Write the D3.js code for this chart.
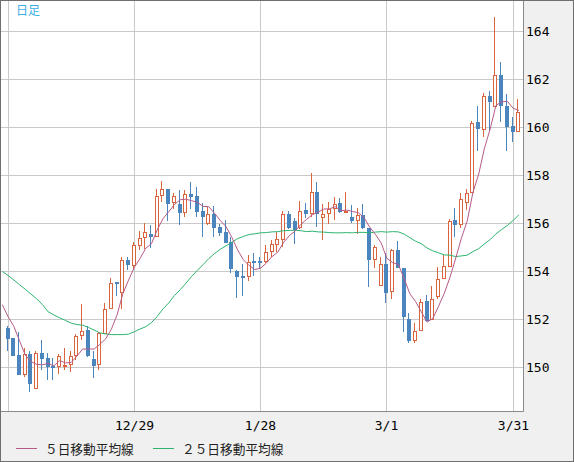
<!DOCTYPE html>
<html>
<head>
<meta charset="utf-8">
<script src="https://cdn.jsdelivr.net/npm/d3@7"></script>
<style>
html, body { margin: 0; padding: 0; background: #fff; }
svg { display: block; }
</style>
</head>
<body>
<div id="root"></div>
<script>
// daily candles, 90 sessions
const opens = [
151.63,151.19,150.49,149.68,150.54,149.07,150.57,150.36,150.06,150.00,
150.00,150.07,150.46,151.28,151.53,150.35,150.07,151.39,152.42,153.53,
153.07,154.44,154.22,155.06,155.36,155.53,155.43,157.11,157.42,156.82,
156.79,156.43,157.21,157.13,156.50,155.94,156.36,155.83,155.62,155.22,
154.01,153.80,153.74,154.42,154.40,154.36,154.78,155.08,155.29,156.36,
156.08,155.78,156.54,156.38,157.28,156.19,156.36,156.57,156.82,156.44,
156.26,156.08,156.33,155.80,154.47,153.39,154.29,153.11,154.88,154.11,
151.99,151.10,151.51,152.75,151.96,152.93,153.68,154.18,156.13,155.90,
156.85,157.24,160.19,159.88,161.29,160.82,162.15,160.89,160.03,159.78];
const highs = [
151.70,151.20,151.46,150.78,150.67,150.67,151.13,150.57,150.36,150.53,
150.78,150.67,151.36,152.63,151.72,150.67,151.46,152.65,153.72,153.56,
154.60,154.57,155.20,155.67,155.99,155.92,157.40,157.75,157.42,157.26,
157.36,157.37,157.70,157.51,156.82,156.68,156.70,155.94,156.12,155.43,
154.04,154.30,154.67,154.74,154.60,155.08,155.29,155.64,156.50,156.50,
156.19,156.92,156.82,158.08,157.72,156.78,156.89,157.10,157.03,157.28,
156.75,156.64,156.78,155.80,155.08,154.60,154.74,154.90,155.25,154.11,
152.24,151.82,152.82,153.00,153.38,154.18,154.67,156.15,156.61,157.24,
157.40,160.25,160.89,161.43,161.51,164.57,162.71,161.38,160.43,161.15];
const lows = [
150.68,150.45,149.68,149.60,148.97,149.07,149.88,149.46,149.46,149.69,
149.88,149.80,150.29,151.13,150.43,149.53,149.88,151.36,152.40,152.97,
152.40,154.04,154.04,154.88,154.92,154.94,155.43,156.86,156.10,156.60,
155.93,156.26,156.60,156.26,155.43,155.92,155.43,155.47,155.15,153.90,
152.86,152.96,153.60,153.79,154.10,154.32,154.60,154.80,155.01,155.75,
155.14,155.75,156.22,156.26,155.85,155.29,155.94,156.13,156.40,156.40,
156.01,155.53,155.75,153.35,154.14,153.39,152.65,152.82,154.11,151.47,
150.99,150.99,151.51,151.93,151.96,152.82,153.68,154.18,155.43,155.80,
156.54,157.24,159.01,159.57,159.85,160.82,160.22,159.01,159.39,159.78];
const closes = [
151.18,150.47,149.68,150.53,149.31,150.57,150.35,150.01,150.00,150.44,
150.07,150.44,151.28,151.50,150.47,150.06,151.40,152.42,153.50,153.49,
154.44,154.25,155.07,155.36,155.61,155.43,157.11,157.40,156.81,157.12,
156.43,157.20,157.10,156.46,156.26,156.36,155.80,155.60,155.18,154.07,
153.76,153.74,154.39,154.35,154.37,154.78,155.11,155.32,156.36,155.80,
155.71,156.51,156.38,157.28,156.38,156.36,156.58,156.80,156.44,156.50,
156.08,156.33,155.78,154.47,155.00,154.28,153.10,154.88,154.11,152.07,
151.10,151.51,152.72,151.93,152.82,153.65,154.21,156.10,155.90,157.02,
157.24,160.15,159.90,161.28,161.03,162.15,160.89,160.01,159.81,160.61];

// moving averages, first value is the session before the first candle
const ma5 = [152.6,
152.10,151.70,151.10,150.50,150.23,150.11,150.09,150.15,150.05,150.27,
150.17,150.19,150.45,150.75,150.75,150.75,150.94,151.17,151.57,152.17,
153.05,153.62,154.15,154.52,154.95,155.14,155.72,156.18,156.47,156.77,
156.97,156.99,156.93,156.86,156.69,156.68,156.40,156.10,155.84,155.40,
154.88,154.47,154.23,154.06,154.12,154.33,154.60,154.79,155.19,155.47,
155.66,155.94,156.15,156.34,156.45,156.58,156.59,156.68,156.51,156.54,
156.48,156.43,156.23,155.83,155.53,155.17,154.53,154.35,154.27,153.69,
153.05,152.73,152.30,151.87,152.02,152.53,153.07,153.74,154.54,155.38,
156.09,157.28,158.04,159.12,159.92,160.90,161.05,161.07,160.78,160.69];
const ma25 = [153.98,
153.82,153.63,153.43,153.24,153.04,152.84,152.60,152.30,152.17,152.05,
151.94,151.83,151.77,151.74,151.65,151.54,151.42,151.38,151.35,151.35,
151.35,151.37,151.47,151.58,151.68,151.85,152.11,152.42,152.67,152.98,
153.22,153.49,153.78,154.03,154.27,154.52,154.73,154.91,155.05,155.20,
155.35,155.44,155.52,155.55,155.59,155.60,155.63,155.64,155.68,155.69,
155.70,155.68,155.64,155.66,155.63,155.62,155.60,155.59,155.59,155.60,
155.59,155.61,155.61,155.59,155.62,155.64,155.62,155.64,155.63,155.54,
155.39,155.24,155.14,154.96,154.84,154.76,154.67,154.66,154.60,154.63,
154.66,154.81,154.93,155.13,155.31,155.55,155.73,155.90,156.11,156.34];

const yTicks = [150, 152, 154, 156, 158, 160, 162, 164];
const xTickIdx = [0, 22, 44, 66, 88];
const xTickLabels = ["", "12/29", "1/28", "3/1", "3/31"];
const legendNames = ["５日移動平均線", "２５日移動平均線"];

const W = 574, H = 462;
const plot = {left: 1, top: 1, right: 523.5, bottom: 411.5};
const colUp = "#d9653f", colDown = "#4a86bd", col5 = "#b65a86", col25 = "#2eb36e";

const svg = d3.select('#root').append('svg').attr('width', W).attr('height', H);

svg.append('rect').attr('x', 0.5).attr('y', 0.5).attr('width', W - 1).attr('height', H - 1)
  .attr('fill', '#f0f0f0').attr('stroke', '#6f6f6f');
svg.append('rect').attr('x', plot.left).attr('y', plot.top)
  .attr('width', plot.right - plot.left).attr('height', plot.bottom - plot.top)
  .attr('fill', '#fff');
svg.append('path')
  .attr('d', `M${plot.right},${plot.top} V${plot.bottom} H${plot.left}`)
  .attr('fill', 'none').attr('stroke', '#8a8a8a');

const x = d3.scaleLinear().domain([0, 89]).range([8, 518.9]);
const y = d3.scaleLinear().domain([150, 164]).range([367, 31]);

svg.append('defs').append('clipPath').attr('id', 'clip')
  .append('rect').attr('x', plot.left + 0.5).attr('y', plot.top)
  .attr('width', plot.right - plot.left - 1).attr('height', plot.bottom - plot.top - 0.5);

// grid
const grid = svg.append('g').attr('stroke', '#c9c9c9').attr('stroke-width', 1);
grid.selectAll('line.h').data(yTicks).join('line').attr('class', 'h')
  .attr('x1', plot.left).attr('x2', plot.right - 0.5)
  .attr('y1', d => Math.round(y(d)) + 0.5).attr('y2', d => Math.round(y(d)) + 0.5);
grid.selectAll('line.v').data(xTickIdx).join('line').attr('class', 'v')
  .attr('y1', plot.top).attr('y2', plot.bottom - 0.5)
  .attr('x1', d => Math.floor(x(d)) + 0.5).attr('x2', d => Math.floor(x(d)) + 0.5);

// axes labels
const yAxis = d3.axisRight(y).tickValues(yTicks).tickSize(0).tickPadding(0);
const gy = svg.append('g').attr('transform', 'translate(526,0)').call(yAxis);
gy.select('.domain').remove();
gy.selectAll('text').attr('font-family', '"DejaVu Sans Mono", monospace')
  .attr('font-size', 13).attr('fill', '#000');

svg.append('g').selectAll('text').data(xTickIdx).join('text')
  .attr('x', d => Math.floor(x(d)) + 0.5).attr('y', 430)
  .attr('text-anchor', 'middle')
  .attr('font-family', '"DejaVu Sans Mono", monospace').attr('font-size', 13)
  .attr('fill', '#000')
  .text((d, i) => xTickLabels[i]);

// candles
const days = d3.range(opens.length);
const cg = svg.append('g').attr('clip-path', 'url(#clip)');
const c = cg.selectAll('g').data(days).join('g');
c.append('line')
  .attr('x1', i => Math.floor(x(i)) - 0.5).attr('x2', i => Math.floor(x(i)) - 0.5)
  .attr('y1', i => Math.round(y(highs[i]))).attr('y2', i => Math.round(y(lows[i])))
  .attr('stroke', i => closes[i] >= opens[i] ? colUp : colDown);
c.filter(i => closes[i] < opens[i]).append('rect')
  .attr('x', i => Math.floor(x(i)) - 2).attr('width', 4)
  .attr('y', i => Math.round(y(opens[i])))
  .attr('height', i => Math.max(2, Math.round(y(closes[i])) - Math.round(y(opens[i]))))
  .attr('fill', colDown);
c.filter(i => closes[i] >= opens[i]).append('rect')
  .attr('x', i => Math.floor(x(i)) - 1.5).attr('width', 3)
  .attr('y', i => Math.round(y(closes[i])) + 0.5)
  .attr('height', i => Math.max(1, Math.round(y(opens[i])) - Math.round(y(closes[i])) - 1))
  .attr('fill', '#fff').attr('stroke', colUp);

// moving averages
const maLine = d3.line().x((d, i) => x(i - 1)).y(d => y(d));
cg.append('path').datum(ma25).attr('d', maLine)
  .attr('fill', 'none').attr('stroke', col25).attr('stroke-width', 1);
cg.append('path').datum(ma5).attr('d', maLine)
  .attr('fill', 'none').attr('stroke', col5).attr('stroke-width', 1);

// title
svg.append('text').attr('x', 16).attr('y', 15)
  .attr('font-family', '"Noto Sans CJK JP", sans-serif').attr('font-size', 12)
  .attr('fill', '#3aaee2').text('日足');

// legend
const lg = svg.append('g').selectAll('g').data(legendNames).join('g')
  .attr('transform', (d, i) => `translate(${[16, 153][i]},448.5)`);
lg.append('line').attr('x1', 0).attr('x2', 21).attr('y1', 0).attr('y2', 0)
  .attr('stroke', (d, i) => [col5, col25][i]);
lg.append('text').attr('x', (d, i) => [29, 29][i]).attr('y', 0)
  .attr('dominant-baseline', 'central')
  .attr('font-family', '"Noto Sans CJK JP", sans-serif').attr('font-size', 12.7)
  .attr('fill', '#222').text(d => d);
</script>
</body>
</html>
